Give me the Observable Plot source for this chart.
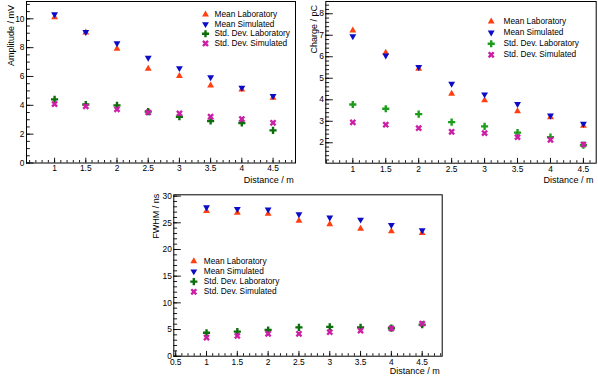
<!DOCTYPE html>
<html>
<head>
<meta charset="utf-8">
<script src="https://cdn.jsdelivr.net/npm/d3@7"></script>
<script src="https://cdn.jsdelivr.net/npm/@observablehq/plot@0.6"></script>
<style>
  html, body { margin: 0; padding: 0; background: #fff; }
  #page { position: relative; width: 598px; height: 376px; background: #fff; overflow: hidden; font-family: "Liberation Sans", Arial, sans-serif; }
  .panel { position: absolute; }
  .panel svg { overflow: visible; }
</style>
</head>
<body>
<div id="page">
  <div class="panel" id="p1" style="left:0px;top:0px"></div>
  <div class="panel" id="p2" style="left:298px;top:0px"></div>
  <div class="panel" id="p3" style="left:140px;top:180px"></div>
</div>
<script>
// ---------------- data ----------------
const distance = [1, 1.5, 2, 2.5, 3, 3.5, 4, 4.5];
const seriesNames = ["Mean Laboratory", "Mean Simulated", "Std. Dev. Laboratory", "Std. Dev. Simulated"];

// Amplitude / mV
const ampMeanLab = [10.1, 9.05, 7.92, 6.54, 6.03, 5.38, 5.1, 4.53];
const ampMeanSim = [10.32, 9.08, 8.31, 7.3, 6.58, 5.94, 5.22, 4.64];
const ampStdLab  = [4.41, 4.06, 4.0, 3.56, 3.21, 2.91, 2.77, 2.26];
const ampStdSim  = [4.09, 3.93, 3.72, 3.51, 3.44, 3.21, 3.05, 2.79];

// Charge / pC
const chgMeanLab = [7.22, 6.19, 5.44, 4.28, 3.98, 3.47, 3.19, 2.79];
const chgMeanSim = [6.95, 6.06, 5.52, 4.74, 4.25, 3.8, 3.27, 2.88];
const chgStdLab  = [3.78, 3.58, 3.33, 2.96, 2.76, 2.47, 2.26, 1.89];
const chgStdSim  = [2.95, 2.84, 2.68, 2.51, 2.45, 2.26, 2.14, 1.92];

// FWHM / ns
const fwMeanLab = [27.2, 26.9, 26.7, 25.4, 24.75, 23.9, 23.4, 23.1];
const fwMeanSim = [27.9, 27.6, 27.5, 26.6, 26.0, 25.6, 24.6, 23.6];
const fwStdLab  = [4.4, 4.6, 4.9, 5.4, 5.5, 5.4, 5.25, 5.9];
const fwStdSim  = [3.5, 3.8, 4.2, 4.2, 4.5, 4.8, 5.2, 6.1];

// tick labels
const xTicks12 = [1, 1.5, 2, 2.5, 3, 3.5, 4, 4.5];
const xTicks3 = [0.5, 1, 1.5, 2, 2.5, 3, 3.5, 4, 4.5];
const ampTicks = [0, 2, 4, 6, 8, 10];
const chgTicks = [2, 3, 4, 5, 6, 7, 8];
const fwTicks = [0, 5, 10, 15, 20, 25, 30];

// ---------------- styles ----------------
const styles = [
  {symbol: "triangle", rotate: 0, r: 2.55},
  {symbol: "triangle", rotate: 180, r: 2.55},
  {symbol: "cross", rotate: 0, r: 3.0},
  {symbol: "cross", rotate: 45, r: 3.0}
];

function minorTicks(domain, step) {
  const out = [];
  const start = Math.ceil(domain[0] / step - 1e-9);
  const end = Math.floor(domain[1] / step + 1e-9);
  for (let k = start; k <= end; k++) out.push(+(k * step).toFixed(6));
  return out;
}

function panel(cfg) {
  const fw = cfg.W - cfg.ml - cfg.mr;
  const fh = cfg.H - cfg.mt - cfg.mb;
  const marks = [
    Plot.frame({stroke: "#000", strokeWidth: 1}),
    Plot.tickX(minorTicks(cfg.xDomain, 0.1), {x: d => d, insetTop: fh - 2.5, stroke: "#000", strokeWidth: 0.9}),
    Plot.tickX(cfg.xTicks, {x: d => d, insetTop: fh - 4.8, stroke: "#000", strokeWidth: 0.9}),
    Plot.tickY(minorTicks(cfg.yDomain, cfg.yMinor), {y: d => d, insetRight: fw - 3.8, stroke: "#000", strokeWidth: 0.9}),
    Plot.tickY(cfg.yTicks, {y: d => d, insetRight: fw - 7.5, stroke: "#000", strokeWidth: 0.9}),
    Plot.axisX({ticks: cfg.xTicks, tickSize: 0, tickPadding: 2.5, tickFormat: d => String(d), label: null, fill: "#000", fontSize: 8.4}),
    Plot.axisY({ticks: cfg.yTicks, tickSize: 0, tickPadding: 2, tickFormat: d => String(d), label: null, fill: "#000", fontSize: 8.4})
  ];
  cfg.values.forEach((vals, s) => {
    const st = styles[s];
    const rows = distance.map((x, i) => ({x, y: vals[i]}));
    marks.push(Plot.dot(rows, {x: "x", y: "y", symbol: () => st.symbol, r: st.r, rotate: st.rotate, fill: cfg.colors[s], stroke: "none"}));
  });
  // axis titles
  marks.push(Plot.text([cfg.yLabel], {text: d => d, frameAnchor: "top-left", rotate: -90, textAnchor: "end", dx: cfg.yLabelDx, dy: cfg.yLabelDy, fontSize: 9, fill: "#000"}));
  marks.push(Plot.text([cfg.xLabel], {text: d => d, frameAnchor: "bottom-right", textAnchor: "end", lineAnchor: "middle", dx: cfg.xLabelDx, dy: cfg.xLabelDy, fontSize: 9, fill: "#000"}));
  // legend
  seriesNames.forEach((name, s) => {
    const st = styles[s];
    const dy = cfg.legY0 + s * cfg.legStep;
    marks.push(Plot.dot([name], {frameAnchor: "top-left", dx: cfg.legMarkX, dy, symbol: () => st.symbol, r: st.r, rotate: st.rotate, fill: cfg.colors[s], stroke: "none"}));
    marks.push(Plot.text([name], {text: d => d, frameAnchor: "top-left", dx: cfg.legTextX, dy, textAnchor: "start", lineAnchor: "middle", fontSize: 8.3, fill: "#000"}));
  });
  return Plot.plot({
    width: cfg.W, height: cfg.H,
    marginLeft: cfg.ml, marginRight: cfg.mr, marginTop: cfg.mt, marginBottom: cfg.mb,
    x: {domain: cfg.xDomain},
    y: {domain: cfg.yDomain},
    style: {fontFamily: "'Liberation Sans', Arial, sans-serif", fontSize: "8.4px", background: "transparent", color: "#000", overflow: "visible"},
    marks
  });
}

document.getElementById("p1").append(panel({
  W: 299, H: 188, ml: 26, mr: 4, mt: 1, mb: 25.5,
  xDomain: [0.55, 4.86], yDomain: [0, 11.2],
  xTicks: xTicks12, yTicks: ampTicks, yMinor: 0.5,
  values: [ampMeanLab, ampMeanSim, ampStdLab, ampStdSim],
  colors: ["#ff3f0f", "#0b0bc8", "#0a6e0a", "#cc1fa6"],
  yLabel: "Amplitude / mV", yLabelDx: -19.3, yLabelDy: 3.5,
  xLabel: "Distance / m", xLabelDx: -1.7, xLabelDy: 17.2,
  legMarkX: 179, legTextX: 188, legY0: 13, legStep: 9.65
}));

document.getElementById("p2").append(panel({
  W: 300, H: 188, ml: 27.3, mr: 2.3, mt: 1, mb: 25.3,
  xDomain: [0.59, 4.694], yDomain: [1.05, 8.57],
  xTicks: xTicks12, yTicks: chgTicks, yMinor: 0.2,
  values: [chgMeanLab, chgMeanSim, chgStdLab, chgStdSim],
  colors: ["#ff3f0f", "#0b0bc8", "#1c9e1c", "#cc1fa6"],
  yLabel: "Charge / pC", yLabelDx: -15.6, yLabelDy: 3.5,
  xLabel: "Distance / m", xLabelDx: -2.7, xLabelDy: 16.5,
  legMarkX: 165.4, legTextX: 177.7, legY0: 20, legStep: 11.1
}));

document.getElementById("p3").append(panel({
  W: 310, H: 196, ml: 33.3, mr: 8.3, mt: 14.3, mb: 20.3,
  xDomain: [0.469, 4.825], yDomain: [0, 30.25],
  xTicks: xTicks3, yTicks: fwTicks, yMinor: 1,
  values: [fwMeanLab, fwMeanSim, fwStdLab, fwStdSim],
  colors: ["#ff3f0f", "#0b0bc8", "#0a6e0a", "#cc1fa6"],
  yLabel: "FWHM / ns", yLabelDx: -21, yLabelDy: -1,
  xLabel: "Distance / m", xLabelDx: -2.4, xLabelDy: 15.2,
  legMarkX: 20, legTextX: 30, legY0: 66.4, legStep: 10.2
}));
</script>
</body>
</html>
